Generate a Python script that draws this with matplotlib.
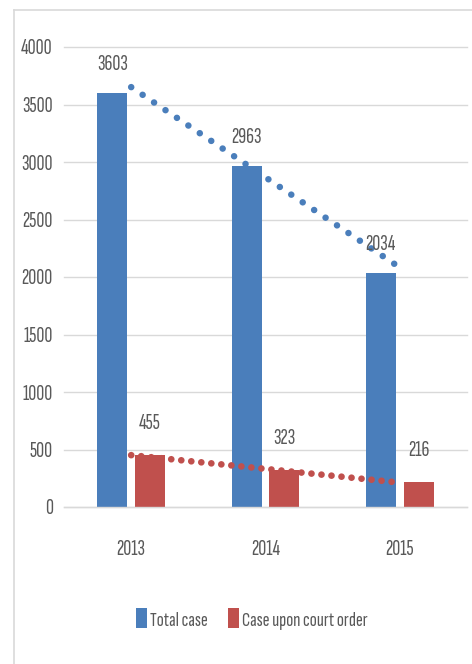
import numpy as np
import matplotlib
matplotlib.use("Agg")
import matplotlib.pyplot as plt
from matplotlib.patches import Patch
from matplotlib.lines import Line2D

plt.rcParams['font.family'] = ['Sofia Sans Extra Condensed', 'DejaVu Sans']

categories = ['2013', '2014', '2015']
total_case = [3603, 2963, 2034]
court_order = [455, 323, 216]
yticks = [0, 500, 1000, 1500, 2000, 2500, 3000, 3500, 4000]

BLUE = '#4a7ebb'
RED = '#c0504d'
TXT = '#595959'
GRID = '#d9d9d9'
FS = 16

fig = plt.figure(figsize=(4.72, 6.64), dpi=100)
ax = fig.add_axes([64/472, (664-507)/664, (467-64)/472, (507-47)/664])

x = np.arange(len(categories))
w = 0.223
off = 0.141
ax.bar(x - off, total_case, width=w, color=BLUE, zorder=2)
ax.bar(x + off, court_order, width=w, color=RED, zorder=2)

# linear trendlines
for vals, col, lw, gap in [(total_case, BLUE, 4.7, 2.1), (court_order, RED, 4.8, 1.5)]:
    p = np.polyfit(x, vals, 1)
    xt = np.array([x[0], x[-1]])
    ax.plot(xt, np.polyval(p, xt), color=col, lw=lw, linestyle=(0, (0.01, gap)),
            dash_capstyle='round', zorder=3)

for xi, v in zip(x, total_case):
    ax.annotate(str(v), (xi - off, v), xytext=(0, 20.5), textcoords='offset points',
                ha='center', va='center', fontsize=FS, color=TXT)
for xi, v in zip(x, court_order):
    ax.annotate(str(v), (xi + off, v), xytext=(0, 22.5), textcoords='offset points',
                ha='center', va='center', fontsize=FS, color=TXT)

ax.set_xlim(-0.5, 2.5)
ax.set_ylim(0, 4000)
ax.set_yticks(yticks)
ax.set_yticklabels([str(t) for t in yticks])
ax.set_xticks(x)
ax.set_xticklabels(categories)
ax.tick_params(axis='y', length=0, pad=8, labelsize=FS, labelcolor=TXT)
ax.tick_params(axis='x', length=0, pad=24, labelsize=FS, labelcolor=TXT)
ax.yaxis.grid(True, color=GRID, lw=1, zorder=0)
for gl in ax.get_ygridlines():
    gl.set_clip_on(False)
ax.set_axisbelow(True)
for s in ['top', 'right', 'left']:
    ax.spines[s].set_visible(False)
ax.spines['bottom'].set_color(GRID)
ax.spines['bottom'].set_linewidth(1)

handles = [Patch(facecolor=BLUE, label='Total case'),
           Patch(facecolor=RED, label='Case upon court order')]
leg = fig.legend(handles=handles, loc='center', bbox_to_anchor=(252/472, 1 - 619/664),
                 ncol=2, frameon=False, fontsize=15, handlelength=0.5, handleheight=1.1,
                 handletextpad=0.15, columnspacing=1.0, labelcolor=TXT)

# outer chart frame
fig.add_artist(Line2D([14/472, 14/472], [0, 1 - 10/664], transform=fig.transFigure,
                      color=GRID, lw=1.2))
fig.add_artist(Line2D([14/472, 1], [1 - 10/664, 1 - 10/664], transform=fig.transFigure,
                      color=GRID, lw=1.2))

fig.savefig('out.png', dpi=100, facecolor='white')
